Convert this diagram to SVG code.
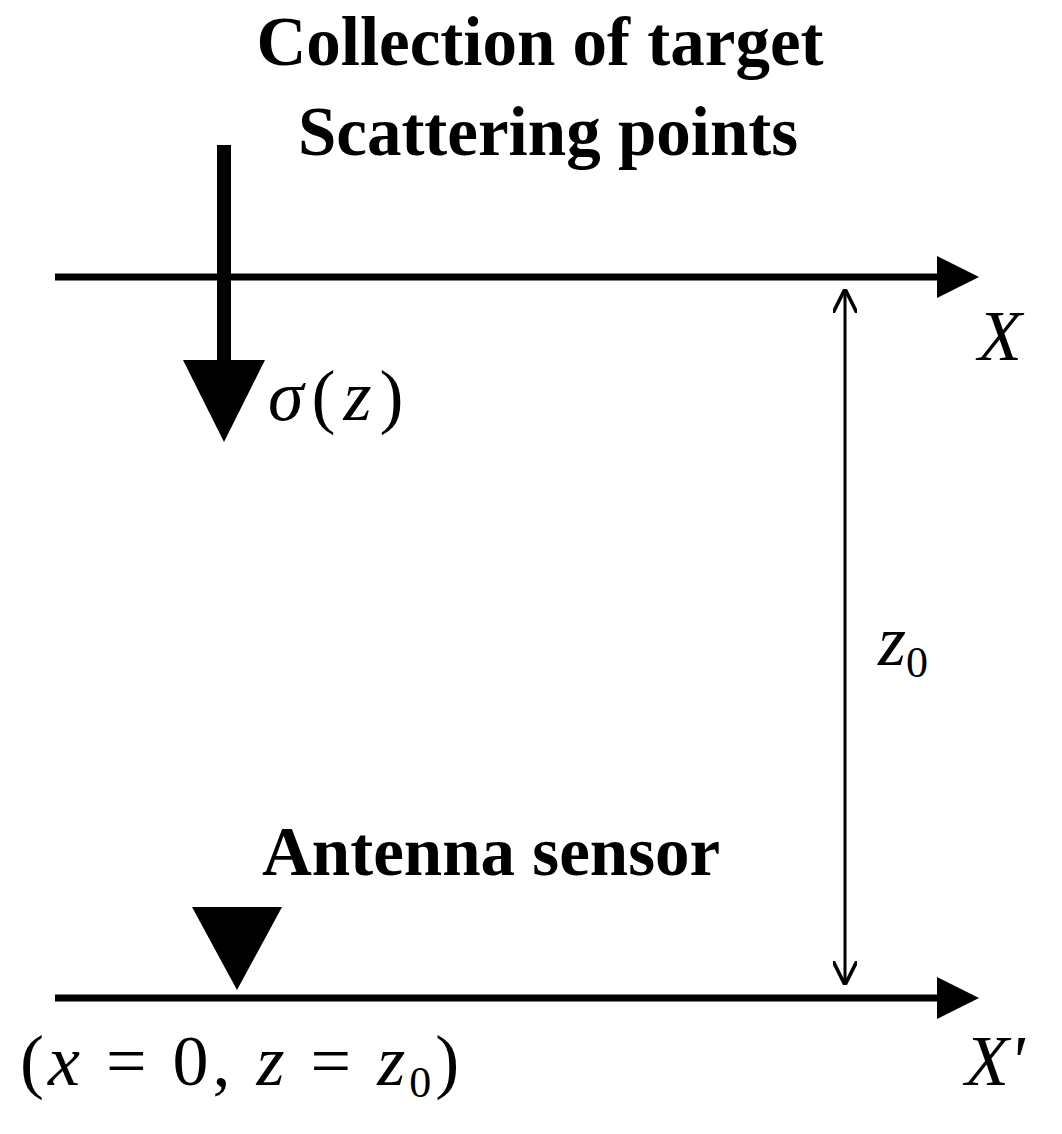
<svg xmlns="http://www.w3.org/2000/svg" width="1062" height="1134" viewBox="0 0 1062 1134">
<style>
.b{font-family:"Liberation Serif",serif;font-weight:bold;font-size:69px;fill:#000}
.m{font-family:"Liberation Serif",serif;font-size:72px;fill:#000}
.i{font-style:italic}
.s{font-size:44px;font-style:normal}
</style>
<defs>
<marker id="ah" markerWidth="6" markerHeight="6" refX="5" refY="3" orient="auto" markerUnits="strokeWidth"><path d="M0,0 L6,3 L0,6 Z" fill="#000"/></marker>
<marker id="da" markerWidth="8" markerHeight="8" refX="7" refY="4" orient="auto-start-reverse" markerUnits="strokeWidth"><path d="M0,0 L8,4 L0,8" fill="none" stroke="#000" stroke-width="1.2"/></marker>
</defs>
<rect width="1062" height="1134" fill="#fff"/>
<g id="title"><text class="b" x="540" y="65" text-anchor="middle">Collection of target</text><text class="b" x="548" y="155" text-anchor="middle">Scattering points</text></g>
<g id="connectors">
<line x1="55" y1="277" x2="972" y2="277" stroke="#000" stroke-width="7" marker-end="url(#ah)"/>
<line x1="55" y1="998" x2="972" y2="998" stroke="#000" stroke-width="7" marker-end="url(#ah)"/>
<line x1="845" y1="292" x2="845" y2="982" stroke="#000" stroke-width="3" marker-start="url(#da)" marker-end="url(#da)"/>
<line x1="224" y1="145" x2="224" y2="362" stroke="#000" stroke-width="14"/>
<polygon points="183,360 265,360 224,442" fill="#000"/>
</g>
<g id="sigma"><text class="m" x="268" y="420" letter-spacing="8"><tspan class="i">σ</tspan>(<tspan class="i">z</tspan>)</text></g>
<g id="axisX"><text class="m i" x="978" y="360">X</text></g>
<g id="z0"><text class="m i" x="878" y="665">z<tspan class="s" dy="12">0</tspan></text></g>
<g id="sensor"><text class="b" x="262" y="875">Antenna sensor</text><polygon points="192,907 282,907 237,990" fill="#000"/></g>
<g id="origin"><text class="m" x="20" y="1085" letter-spacing="4">(<tspan class="i">x</tspan> = 0, <tspan class="i">z</tspan> = <tspan class="i">z</tspan><tspan class="s" dy="12">0</tspan><tspan dy="-12">)</tspan></text></g>
<g id="axisX2"><text class="m i" x="965" y="1085">X'</text></g>
</svg>
